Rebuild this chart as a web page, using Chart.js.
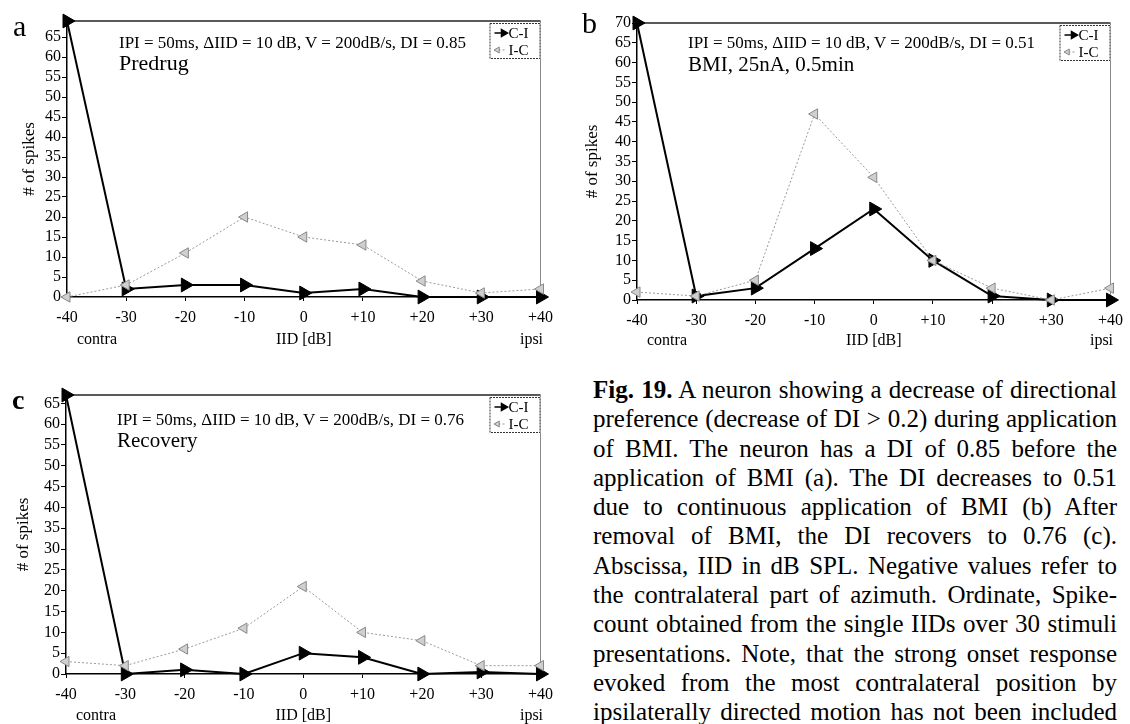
<!DOCTYPE html>
<html>
<head>
<meta charset="utf-8">
<script src="https://cdn.jsdelivr.net/npm/chart.js@4.4.1/dist/chart.umd.min.js"></script>
<style>
body{margin:0;width:1130px;height:724px;background:#fff;position:relative;overflow:hidden;font-family:"Liberation Serif","Times New Roman",serif;color:#000}
canvas{position:absolute}
.t{position:absolute;white-space:nowrap;line-height:1}
#cap{position:absolute;left:593px;top:375px;width:524px;font-size:25px}
#cap div{text-align:justify;text-align-last:justify;height:29.3px;line-height:29.3px;white-space:nowrap}
</style>
</head>
<body>
<canvas id="pa" width="560" height="350" style="left:0;top:0"></canvas>
<canvas id="pb" width="570" height="355" style="left:560px;top:0"></canvas>
<canvas id="pc" width="560" height="364" style="left:0;top:360px"></canvas>

<div class="t" style="left:13px;top:11px;font-size:30px">a</div>
<div class="t" style="left:582px;top:8px;font-size:30px">b</div>
<div class="t" style="left:12px;top:386px;font-size:28px;font-weight:bold">c</div>

<div class="t" style="left:119px;top:34px;font-size:17px">IPI = 50ms, ΔIID = 10 dB, V = 200dB/s, DI = 0.85</div>
<div class="t" style="left:119px;top:52px;font-size:22px">Predrug</div>
<div class="t" style="left:688px;top:34px;font-size:17px">IPI = 50ms, ΔIID = 10 dB, V = 200dB/s, DI = 0.51</div>
<div class="t" style="left:688px;top:54px;font-size:21px">BMI, 25nA, 0.5min</div>
<div class="t" style="left:117px;top:411px;font-size:17px">IPI = 50ms, ΔIID = 10 dB, V = 200dB/s, DI = 0.76</div>
<div class="t" style="left:117px;top:430px;font-size:21px">Recovery</div>

<div id="cap">
<div><b>Fig. 19.</b> A neuron showing a decrease of directional</div>
<div>preference (decrease of DI &gt; 0.2) during application</div>
<div>of BMI. The neuron has a DI of 0.85 before the</div>
<div>application of BMI (a). The DI decreases to 0.51</div>
<div>due to continuous application of BMI (b) After</div>
<div>removal of BMI, the DI recovers to 0.76 (c).</div>
<div>Abscissa, IID in dB SPL. Negative values refer to</div>
<div>the contralateral part of azimuth. Ordinate, Spike-</div>
<div>count obtained from the single IIDs over 30 stimuli</div>
<div>presentations. Note, that the strong onset response</div>
<div>evoked from the most contralateral position by</div>
<div>ipsilaterally directed motion has not been included</div>
</div>

<script>
const iidLabels = ['-40','-30','-20','-10','0','+10','+20','+30','+40']

const predrugCI = [69, 2, 3, 3, 1, 2, 0, 0, 0]
const predrugIC = [0, 3, 11, 20, 15, 13, 4, 1, 2]

const bmiCI = [70, 1, 3, 13, 23, 10, 1, 0, 0]
const bmiIC = [2, 1, 5, 47, 31, 10, 3, 0, 3]

const recoveryCI = [67, 0, 1, 0, 5, 4, 0, 0.5, 0]
const recoveryIC = [3, 2, 6, 11, 21, 10, 8, 2, 2]

const serif = '"Liberation Serif", "Times New Roman", serif'

// frame on top/right, little boxed legend and the contra / ipsi words
const panelExtras = {
  id: 'panelExtras',
  beforeDatasetsDraw(chart) {
    const {ctx, chartArea: a} = chart
    ctx.save()
    ctx.lineWidth = 1.5
    ctx.strokeStyle = '#222'
    ctx.beginPath(); ctx.moveTo(a.left, a.top); ctx.lineTo(a.right, a.top); ctx.stroke()
    ctx.lineWidth = 1
    ctx.strokeStyle = '#888'
    ctx.beginPath(); ctx.moveTo(a.right, a.top); ctx.lineTo(a.right, a.bottom); ctx.stroke()
    ctx.restore()
  },
  afterDraw(chart, args, o) {
    const {ctx, chartArea: a} = chart
    ctx.save()
    const w = 51, h = 36, x = a.right - w, y = a.top + 2
    ctx.fillStyle = '#fff'
    ctx.fillRect(x, y, w, h)
    ctx.setLineDash([2, 1])
    ctx.strokeStyle = '#333'
    ctx.lineWidth = 1
    ctx.strokeRect(x + 0.5, y + 0.5, w - 1, h - 1)
    ctx.setLineDash([])

    chart.data.datasets.forEach((ds, i) => {
      const ly = y + 10 + i * 17
      ctx.strokeStyle = ds.borderColor
      ctx.lineWidth = i === 0 ? 1.5 : 1
      ctx.setLineDash(ds.borderDash || [])
      ctx.beginPath(); ctx.moveTo(x + 5, ly); ctx.lineTo(x + 17, ly); ctx.stroke()
      ctx.setLineDash([])
      ctx.fillStyle = ds.pointBackgroundColor
      ctx.strokeStyle = ds.pointBorderColor
      Chart.helpers.drawPoint(ctx, {
        pointStyle: ds.pointStyle, rotation: ds.pointRotation,
        radius: i === 0 ? 4 : 3.5, borderWidth: 1
      }, i === 0 ? x + 14 : x + 8, ly)
      ctx.fillStyle = '#000'
      ctx.font = '15px ' + serif
      ctx.textAlign = 'left'
      ctx.textBaseline = 'middle'
      ctx.fillText(ds.label, x + 19, ly + 1)
    })

    const ty = chart.scales.x.bottom - 8 - o.xTitlePad
    ctx.font = '16px ' + serif
    ctx.textAlign = 'center'
    ctx.textBaseline = 'middle'
    ctx.fillStyle = '#000'
    ctx.fillText('contra', a.left + 30, ty)
    ctx.fillText('ipsi', a.right - 9, ty)
    ctx.restore()
  }
}

function makePanel(id, ci, ic, yMax, p) {
  return new Chart(document.getElementById(id), {
    type: 'line',
    data: {
      labels: iidLabels,
      datasets: [
        {
          label: 'C-I', data: ci,
          borderColor: '#000', borderWidth: 2,
          pointStyle: 'triangle', pointRotation: 90, pointRadius: 8,
          pointBackgroundColor: '#000', pointBorderColor: '#000', pointBorderWidth: 1,
          order: 2, clip: false
        },
        {
          label: 'I-C', data: ic,
          borderColor: '#9a9a9a', borderWidth: 1, borderDash: [2, 2],
          pointStyle: 'triangle', pointRotation: 270, pointRadius: 6,
          pointBackgroundColor: '#cfcfcf', pointBorderColor: '#888', pointBorderWidth: 1,
          order: 1, clip: false
        }
      ]
    },
    options: {
      responsive: false,
      animation: false,
      layout: {padding: {left: 0, top: p.padTop, right: p.padRight, bottom: 0}},
      plugins: {
        legend: {display: false},
        tooltip: {enabled: false},
        panelExtras: {xTitlePad: p.xTitlePad}
      },
      scales: {
        x: {
          grid: {display: true, drawOnChartArea: false, tickLength: 4, color: '#000'},
          border: {color: '#000', width: 1.5},
          ticks: {color: '#000', font: {family: serif, size: 16}, padding: 7, maxRotation: 0, autoSkip: false},
          title: {display: true, text: 'IID [dB]', color: '#000', font: {family: serif, size: 16, lineHeight: 1}, padding: {top: 0, bottom: p.xTitlePad}},
          afterFit(s) { s.height = p.xHeight }
        },
        y: {
          min: 0, max: yMax,
          grid: {display: true, drawOnChartArea: false, tickLength: 5, color: '#000'},
          border: {color: '#000', width: 1.5},
          ticks: {stepSize: 5, includeBounds: false, autoSkip: false, color: '#000', font: {family: serif, size: 16}, padding: 1},
          title: {display: true, text: '# of spikes', color: '#000', font: {family: serif, size: 17, lineHeight: 1.2}, padding: {top: p.yTitlePad, bottom: 0}},
          afterFit(s) { s.width = p.yWidth }
        }
      }
    },
    plugins: [panelExtras]
  })
}

makePanel('pa', predrugCI, predrugIC, 69, {padTop: 21, padRight: 15, xHeight: 53, yWidth: 67, yTitlePad: 19, xTitlePad: 2})
makePanel('pb', bmiCI, bmiIC, 70, {padTop: 23, padRight: 13, xHeight: 55, yWidth: 77, yTitlePad: 22, xTitlePad: 6})
makePanel('pc', recoveryCI, recoveryIC, 67, {padTop: 35, padRight: 15, xHeight: 50, yWidth: 66, yTitlePad: 13, xTitlePad: 0})
</script>
</body>
</html>
